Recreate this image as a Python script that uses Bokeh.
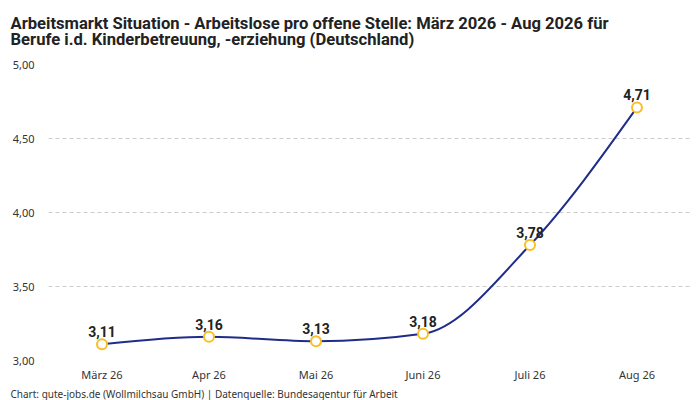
import numpy as np
from bokeh.plotting import figure
from bokeh.models import (ColumnDataSource, Range1d, FixedTicker, CustomJSTickFormatter,
                          LabelSet, Title)
from bokeh.core.properties import value
from bokeh.embed import file_html
from bokeh.resources import INLINE

# ---- data ----
categories = ["März 26", "Apr 26", "Mai 26", "Juni 26", "Juli 26", "Aug 26"]
values = [3.11, 3.16, 3.13, 3.18, 3.78, 4.71]
y_ticks = [3.0, 3.5, 4.0, 4.5, 5.0]
title_lines = ["Arbeitsmarkt Situation - Arbeitslose pro offene Stelle: März 2026 - Aug 2026 für",
               "Berufe i.d. Kinderbetreuung, -erziehung (Deutschland)"]
footer = "Chart: gute-jobs.de (Wollmilchsau GmbH) | Datenquelle: Bundesagentur für Arbeit"

LINE_COLOR = "#1f2d8a"
MARKER_COLOR = "#fbbf24"
FONT = "Noto Sans"
LABEL_FONT = "Roboto"
TITLE_FONT = "Roboto"

xs = list(range(len(categories)))
labels = [f"{v:.2f}".replace(".", ",") for v in values]

p = figure(width=700, height=400, output_backend="svg", toolbar_location=None,
           x_range=Range1d(-0.5, len(categories) - 0.5), y_range=Range1d(3.0, 5.0),
           min_border_left=48, min_border_right=10, min_border_top=0, min_border_bottom=0)
p.outline_line_color = None
p.background_fill_color = "white"
p.border_fill_color = "white"

# smooth monotone curve through the points, drawn as bezier segments in data space
x = np.array(xs, dtype=float)
y = np.array(values, dtype=float)
h = np.diff(x)
s = np.diff(y) / h
m = np.zeros_like(y)
for i in range(1, len(y) - 1):
    if s[i - 1] * s[i] <= 0:
        m[i] = 0.0
    else:
        p_ = (s[i - 1] * h[i] + s[i] * h[i - 1]) / (h[i - 1] + h[i])
        m[i] = (np.sign(s[i - 1]) + np.sign(s[i])) * min(abs(s[i - 1]), abs(s[i]), 0.5 * abs(p_))
m[0] = (3 * s[0] - m[1]) / 2
m[-1] = (3 * s[-1] - m[-2]) / 2
bz = ColumnDataSource(dict(
    x0=x[:-1], y0=y[:-1], x1=x[1:], y1=y[1:],
    cx0=x[:-1] + h / 3, cy0=y[:-1] + m[:-1] * h / 3,
    cx1=x[1:] - h / 3, cy1=y[1:] - m[1:] * h / 3,
))
p.bezier(x0="x0", y0="y0", x1="x1", y1="y1", cx0="cx0", cy0="cy0", cx1="cx1", cy1="cy1",
         source=bz, line_color=LINE_COLOR, line_width=2)

src = ColumnDataSource(dict(x=xs, y=values, label=labels))
p.scatter("x", "y", source=src, size=10, fill_color="white", line_color=MARKER_COLOR, line_width=2)
p.add_layout(LabelSet(x="x", y="y", text="label", source=src, text_align="center",
                      text_baseline="bottom", y_offset=7, text_font=value(LABEL_FONT),
                      text_font_style="bold", text_font_size="14px", text_color="#222222"))

# axes
p.xaxis.ticker = FixedTicker(ticks=xs)
p.xaxis.major_label_overrides = {i: c for i, c in enumerate(categories)}
p.yaxis.ticker = FixedTicker(ticks=y_ticks)
p.yaxis.formatter = CustomJSTickFormatter(code="return tick.toFixed(2).replace('.', ',');")
for ax in (p.xaxis[0], p.yaxis[0]):
    ax.axis_line_color = None
    ax.major_tick_line_color = None
    ax.minor_tick_line_color = None
    ax.major_tick_out = 0
    ax.major_tick_in = 0
    ax.major_label_text_font = FONT
    ax.major_label_text_font_size = "11px"
    ax.major_label_text_color = "#333333"
p.xaxis.major_label_standoff = 6
p.yaxis.major_label_standoff = 14
p.xgrid.grid_line_color = None
p.ygrid.grid_line_color = "#cccccc"
p.ygrid.grid_line_dash = "4 3"
p.ygrid.grid_line_width = 1

# two-line title and footer
p.add_layout(Title(text="\n".join(title_lines), align="left", offset=-38, standoff=26,
                   vertical_align="top", text_baseline="top",
                   text_font=TITLE_FONT, text_font_style="bold", text_font_size="16.6px",
                   text_line_height=0.875, text_color="#222222"), "above")
p.add_layout(Title(text=footer, align="left", offset=-38, standoff=0,
                   text_font=FONT, text_font_style="normal", text_font_size="10px",
                   text_color="#333333"), "below")

open("out.html", "w").write(file_html(p, INLINE))
